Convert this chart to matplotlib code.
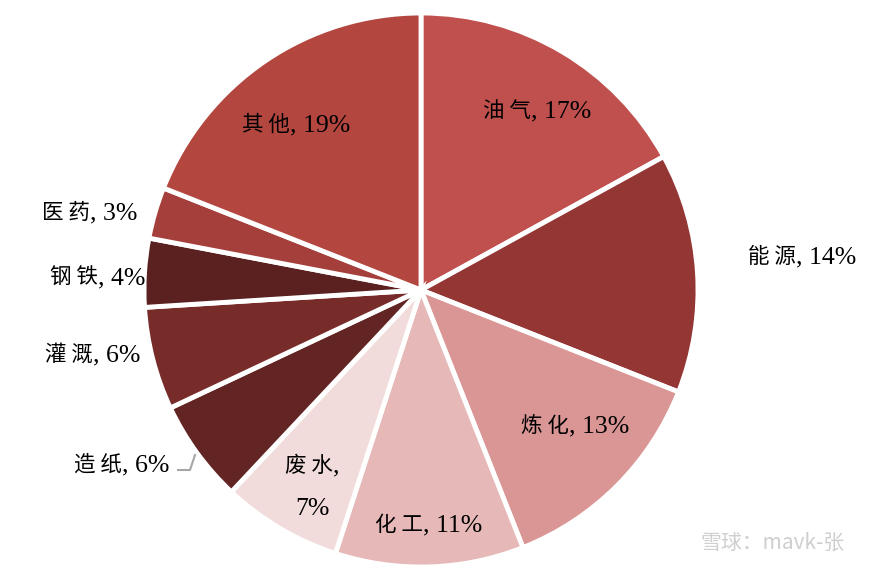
import matplotlib.pyplot as plt

plt.rcParams['font.family'] = ['Liberation Serif', 'Noto Sans CJK SC']

# 数据
labels = ['油气', '能源', '炼化', '化工', '废水', '造纸', '灌溉', '钢铁', '医药', '其他']
shares = [17, 14, 13, 11, 7, 6, 6, 4, 3, 19]
colors = ['#C0504D', '#943634', '#D99694', '#E6B9B8', '#F2DCDB',
          '#632523', '#772C2A', '#5A2120', '#A53F3B', '#B3463F']

# label centres (pixel coords, y from top)
label_pos = [(537, 110), (802, 256), (575, 425), (429, 524), (312, 465),
             (122, 464), (93, 354), (98, 277), (90, 212), (296, 124)]

W, H = 870, 571
fig = plt.figure(figsize=(W / 100, H / 100), dpi=100)
ax = fig.add_axes([0, 0, 1, 1])

ax.pie(shares, colors=colors, startangle=90, counterclock=False,
       center=(421, H - 290), radius=277, frame=True,
       wedgeprops=dict(edgecolor='white', linewidth=3.5))
ax.set_xlim(0, W)
ax.set_ylim(0, H)
ax.set_aspect('equal')
ax.axis('off')

cjk = dict(fontsize=15.5, family=['Noto Sans CJK SC'], color='black', va='baseline', ha='left')
lat = dict(fontsize=18.5, family=['Liberation Serif'], color='black', va='baseline', ha='left')

fig.canvas.draw()
r = fig.canvas.get_renderer()


def mixed_label(x, y, cn, rest):
    # CJK part and latin part in different sizes, centred together on x
    t1 = ax.text(0, H - y - 7, ' '.join(cn), **cjk)
    t2 = ax.text(0, H - y - 7, rest, **lat)
    w1 = t1.get_window_extent(r).width
    w2 = t2.get_window_extent(r).width
    left = x - (w1 + w2) / 2
    t1.set_x(left)
    t2.set_x(left + w1)


for name, val, (x, y) in zip(labels, shares, label_pos):
    if name == '废水':
        mixed_label(x, y, name, ',')
        ax.text(x, H - y - 50, f'{val}%', **{**lat, 'ha': 'center'})
    else:
        mixed_label(x, y, name, f', {val}%')

# small leader mark next to 造纸
ax.plot([195, 190, 178], [H - 455, H - 470, H - 470], color='#A6A6A6', lw=1.5)

# watermark
ax.text(845, H - 543, '雪球：mavk-张', ha='right', va='center', fontsize=15,
        color='#CFCFCF', family=['Noto Sans CJK SC', 'DejaVu Sans'])

fig.savefig('out.png', dpi=100)
